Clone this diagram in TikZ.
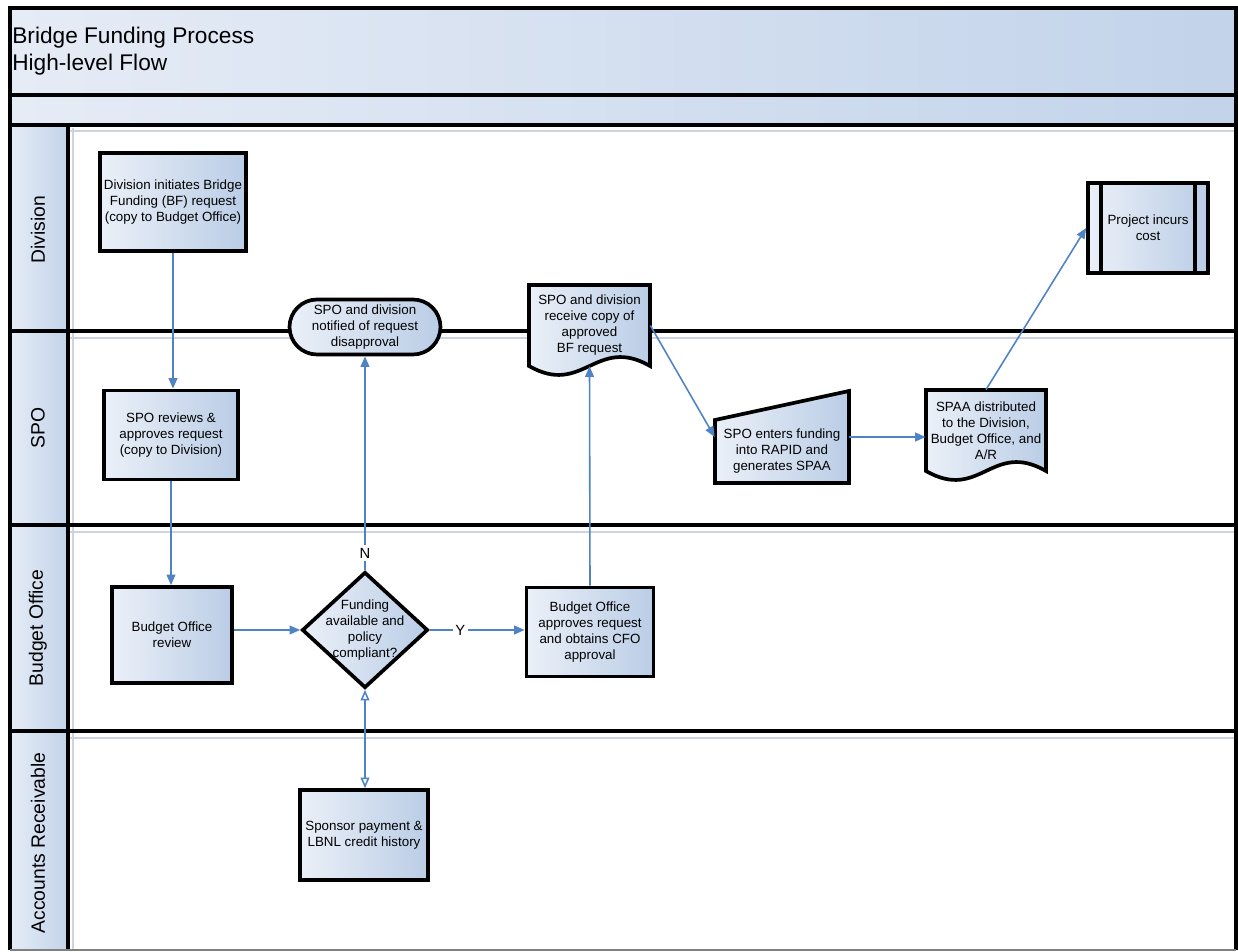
\documentclass[tikz,border=0pt]{standalone}
\usepackage{fontspec}
\setmainfont{Liberation Sans}
\usetikzlibrary{arrows.meta,shapes.geometric}

\definecolor{bandlight}{HTML}{E6ECF6}
\definecolor{bandblue}{HTML}{C2D3EA}
\definecolor{boxlight}{HTML}{EBF0F8}
\definecolor{boxblue}{HTML}{BACDE6}
\definecolor{flowblue}{HTML}{5083C4}
\definecolor{guidegrey}{HTML}{CDD4E0}

\tikzset{
  lanerule/.style={line width=2.4pt},
  framerule/.style={line width=1.8pt},
  guideline/.style={guidegrey, line width=1pt},
  lanetext/.style={rotate=90, font=\fontsize{11}{13}\selectfont, inner sep=0pt},
  boxtext/.style={font=\fontsize{7.6}{9.1}\selectfont, align=center, inner sep=1pt},
  shapeline/.style={line width=2.1pt, left color=boxlight, right color=boxblue},
  stepbox/.style={boxtext, draw, shapeline},
  flow/.style={draw=flowblue, line width=0.9pt, -{Triangle[length=6pt,width=5pt]}},
  twoway/.style={draw=flowblue, line width=0.9pt,
    {Triangle[open,length=6pt,width=5pt]}-{Triangle[open,length=6pt,width=5pt]}},
  flowlabel/.style={boxtext, fill=white, inner sep=1.5pt, font=\fontsize{8.4}{10}\selectfont}
}

\begin{document}
\begin{tikzpicture}[x=0.02cm, y=-0.02cm]
    \useasboundingbox (0,0) rectangle (1238,952);

    % Title bands
    \shade[left color=bandlight, right color=bandblue] (10,8) rectangle (1236,95);
    \shade[left color=bandlight, right color=bandblue] (10,95) rectangle (1236,125);
    \node[anchor=west, align=left, inner sep=0pt, font=\fontsize{12.9}{15.3}\selectfont]
        (title) at (12,51) {Bridge Funding Process\\High-level Flow};

    % Lane headers
    \foreach \ya/\yb in {125/331, 331/525, 525/731, 731/950}
        \shade[left color=bandlight, right color=bandblue] (10,\ya) rectangle (68,\yb);

    % Faint guides below the rules
    \foreach \y in {131,338,532,738}
        \draw[guideline] (70,\y) -- (1236,\y);
    \draw[guideline, line width=0.6pt] (73,128) -- (73,950);

    % Lane rules and frame
    \foreach \y in {95,125,331,525,731}
        \draw[lanerule] (10,\y) -- (1236,\y);
    \draw[lanerule] (68,125) -- (68,950);
    \draw[framerule] (10,950) -- (10,8) -- (1236,8) -- (1236,950);
    \draw[gray, line width=0.8pt] (10,950) -- (1236,950);

    \node[lanetext] (laneDiv) at (38,230) {Division};
    \node[lanetext] (laneSpo) at (38,428) {SPO};
    \node[lanetext] (laneBo) at (38,628) {Budget Office};
    \node[lanetext] (laneAr) at (38,843) {Accounts Receivable};

    % Outlines that are not plain boxes
    \draw[shapeline] (529,285) -- (650,285) -- (650,366)
        .. controls (596,335) and (583,397) .. (529,366) -- cycle;
    \draw[shapeline] (926,390) -- (1046,390) -- (1046,471)
        .. controls (992,440) and (980,502) .. (926,471) -- cycle;
    \draw[shapeline] (715,420) -- (849,391) -- (849,483) -- (715,483) -- cycle;

    % Steps
    \node[stepbox, minimum width=2.92cm, minimum height=1.96cm] (divinit) at (173,202)
        {Division initiates Bridge\\Funding (BF) request\\(copy to Budget Office)};
    \node[stepbox, minimum width=2.68cm, minimum height=1.78cm] (sporev) at (171,435)
        {SPO reviews \&\\approves request\\(copy to Division)};
    \node[stepbox, minimum width=2.4cm, minimum height=1.92cm] (boreview) at (172,635)
        {Budget Office\\review};
    \node[diamond, draw, shapeline, minimum width=2.52cm, minimum height=2.32cm, inner sep=0pt]
        (dec) at (365,630) {};
    \node[boxtext] (dectext) at (dec.center) {Funding\\available and\\policy\\compliant?};
    \node[stepbox, minimum width=2.54cm, minimum height=1.78cm] (boappr) at (590,632)
        {Budget Office\\approves request\\and obtains CFO\\approval};
    \node[stepbox, minimum width=2.56cm, minimum height=1.8cm] (sponsor) at (364,835)
        {Sponsor payment \&\\LBNL credit history};
    \node[stepbox, minimum width=3.02cm, minimum height=1.1cm, rounded corners=0.55cm]
        (notify) at (365,327) {SPO and division\\notified of request\\disapproval};
    \node[boxtext, minimum width=2.42cm, minimum height=1.62cm] (bfcopy) at (589.5,325.5)
        {SPO and division\\receive copy of\\approved\\BF request};
    \node[boxtext, minimum width=2.68cm, minimum height=1.84cm] (enter) at (782,437)
        {\rule{0pt}{22pt}SPO enters funding\\into RAPID and\\generates SPAA};
    \node[boxtext, minimum width=2.4cm, minimum height=1.62cm] (spaa) at (986,430.5)
        {SPAA distributed\\to the Division,\\Budget Office, and\\A/R};
    \node[stepbox, minimum width=2.4cm, minimum height=1.8cm] (proj) at (1148,228)
        {Project incurs\\cost};
    \draw[line width=2.1pt] ([xshift=0.3cm]proj.north west) -- ([xshift=0.3cm]proj.south west);
    \draw[line width=2.1pt] ([xshift=-0.3cm]proj.north east) -- ([xshift=-0.3cm]proj.south east);

    % Flow
    \draw[flow] (divinit.south) -- (divinit.south |- sporev.north);
    \draw[flow] (sporev.south) -- (sporev.south |- boreview.north);
    \draw[flow] (boreview.east |- dec.west) -- (dec.west);
    \draw[flow] (dec.north) -- node[flowlabel, pos=0.08] {N} (dec.north |- notify.south);
    \draw[flow] (dec.east) -- node[flowlabel, pos=0.32] {Y} (boappr.west |- dec.east);
    \draw[flow] (boappr.north) -- (bfcopy.south);
    \draw[flow] (bfcopy.east) -- (enter.west);
    \draw[flow] (enter.east) -- (enter.east -| spaa.west);
    \draw[flow] (spaa.north) -- (proj.west);
    \draw[twoway] (dec.south) -- (dec.south |- sponsor.north);
\end{tikzpicture}
\end{document}
